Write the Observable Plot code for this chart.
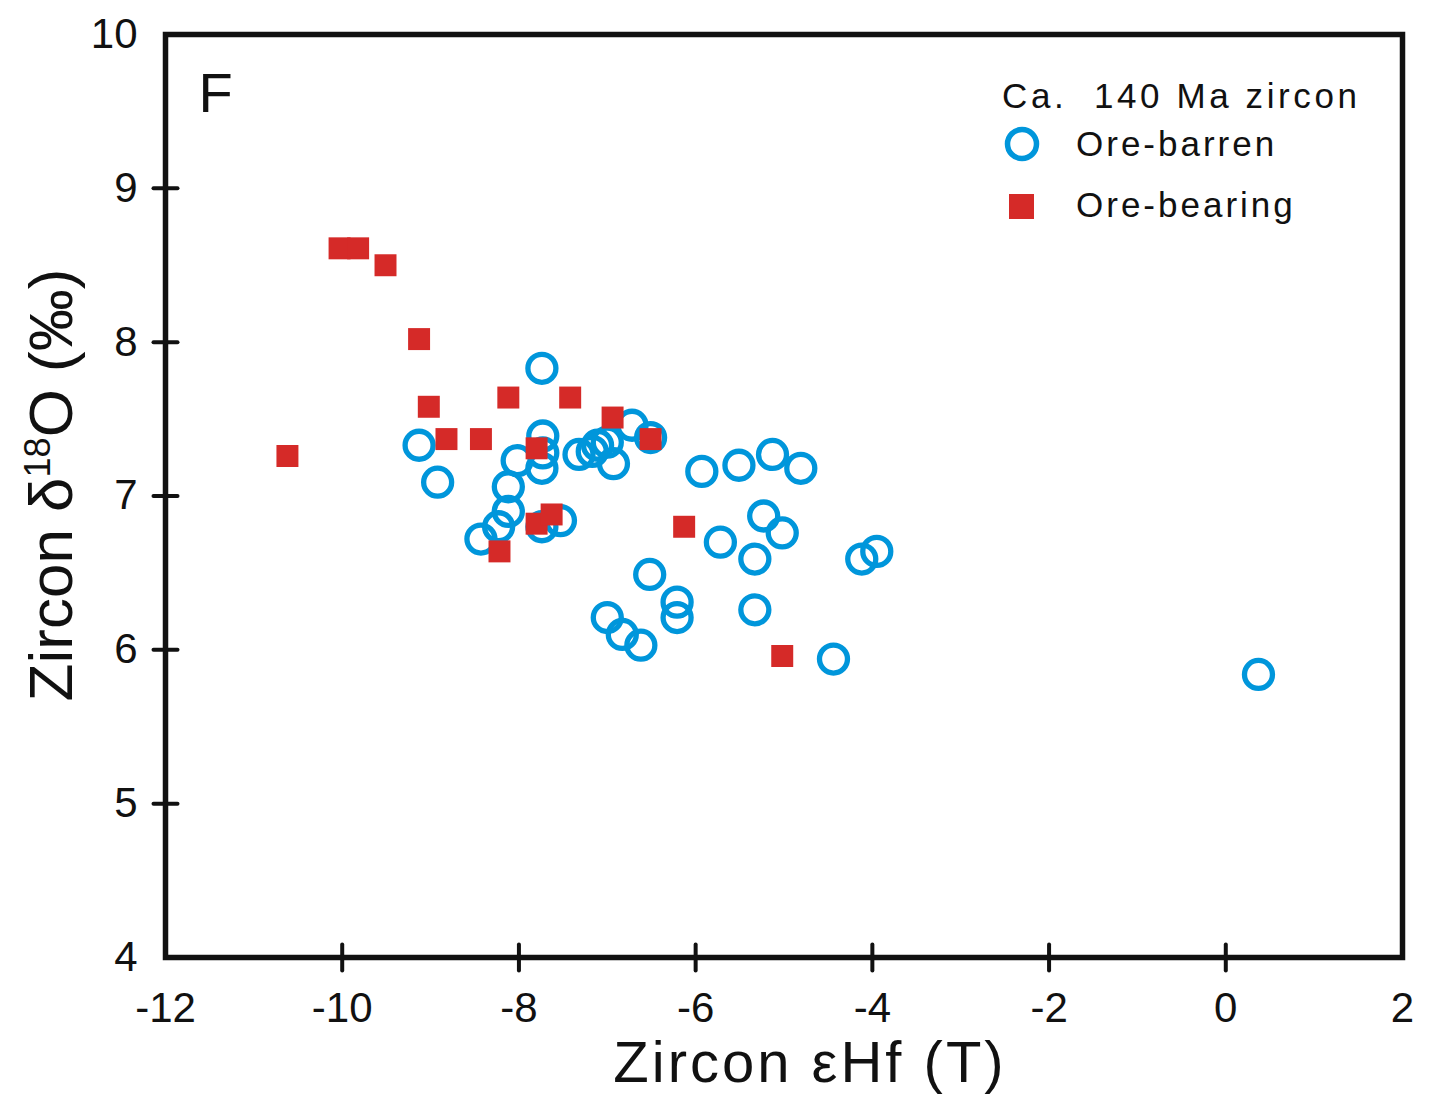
<!DOCTYPE html>
<html>
<head>
<meta charset="utf-8">
<script src="https://cdn.jsdelivr.net/npm/d3@7"></script>
<script src="https://cdn.jsdelivr.net/npm/@observablehq/plot@0.6"></script>
<style>
  body { margin: 0; background: #fff; }
  #chart { width: 1430px; height: 1094px; }
</style>
</head>
<body>
<div id="chart"></div>
<script>
// ---- Data ----
const barrenHf = [-7.74, -9.13, -8.92, -7.73, -7.73, -7.74, -8.02, -8.12, -8.12, -8.23,
                  -8.43, -7.74, -7.53, -7.32, -7.17, -7.11, -7.00, -6.93, -6.72, -6.51,
                  -5.93, -5.51, -5.13, -4.81, -5.23, -5.02, -5.72, -5.33, -6.52, -6.21,
                  -6.21, -7.00, -6.83, -6.62, -5.33, -4.44, -4.12, -3.95, 0.37];
const barrenO  = [7.83, 7.33, 7.09, 7.39, 7.28, 7.18, 7.23, 7.06, 6.90, 6.80,
                  6.72, 6.80, 6.84, 7.27, 7.29, 7.33, 7.35, 7.21, 7.46, 7.38,
                  7.16, 7.20, 7.27, 7.18, 6.87, 6.76, 6.70, 6.59, 6.49, 6.31,
                  6.21, 6.21, 6.10, 6.03, 6.26, 5.94, 6.59, 6.64, 5.84];
const bearingHf = [-10.62, -10.03, -9.82, -9.51, -9.13, -9.02, -8.82, -8.43, -8.12, -7.42,
                   -7.80, -6.94, -6.51, -7.80, -7.63, -8.22, -6.13, -5.02];
const bearingO  = [7.26, 8.61, 8.61, 8.50, 8.02, 7.58, 7.37, 7.37, 7.64, 7.64,
                   7.31, 7.51, 7.37, 6.82, 6.88, 6.64, 6.80, 5.96];
const xTicks = [-12, -10, -8, -6, -4, -2, 0, 2];
const yTicks = [4, 5, 6, 7, 8, 9, 10];
const seriesNames = ["Ore-barren", "Ore-bearing"];
const legendTitle = "Ca.  140 Ma zircon";
const panelLabel = "F";

const barren = barrenHf.map((x, i) => ({x, y: barrenO[i]}));
const bearing = bearingHf.map((x, i) => ({x, y: bearingO[i]}));

const BLUE = "#0096db";
const RED = "#d52a28";
const INK = "#111";
const FONT = "Arial, 'Liberation Sans', sans-serif";

const xDomain = [xTicks[0], xTicks[xTicks.length - 1]];
const yDomain = [yTicks[0], yTicks[yTicks.length - 1]];
const xInner = xTicks.slice(1, -1);
const yInner = yTicks.slice(1, -1);

const tickShape = { draw(ctx, l) { ctx.moveTo(0, 0); ctx.lineTo(0, -l); } };

const plot = Plot.plot({
  width: 1430,
  height: 1094,
  marginLeft: 165,
  marginRight: 28,
  marginTop: 34,
  marginBottom: 137,
  style: { fontFamily: FONT, background: "#fff", color: INK },
  x: { domain: xDomain },
  y: { domain: yDomain },
  marks: [
    Plot.axisX({ ticks: xTicks, tickSize: 0, tickPadding: 35, fontSize: 42, label: null,
                 tickFormat: d => String(d), fill: INK }),
    Plot.axisY({ ticks: yTicks, tickSize: 0, tickPadding: 28, fontSize: 42, label: null,
                 tickFormat: d => String(d), fill: INK }),
    Plot.vector(xInner, { x: d => d, frameAnchor: "bottom", length: 26, rotate: 0, anchor: "middle",
                          shape: tickShape, stroke: INK, strokeWidth: 4, strokeLinecap: "round" }),
    Plot.vector(yInner, { y: d => d, frameAnchor: "left", length: 24, rotate: 90, anchor: "middle",
                          shape: tickShape, stroke: INK, strokeWidth: 4, strokeLinecap: "round" }),
    Plot.dot(barren, { x: "x", y: "y", r: 14, stroke: BLUE, strokeWidth: 5.3, fill: "none" }),
    Plot.dot(bearing, { x: "x", y: "y", symbol: "square", r: 12.4, fill: RED, stroke: "none" }),
    Plot.frame({ stroke: INK, strokeWidth: 5.5 }),
    Plot.text([panelLabel], { frameAnchor: "top-left", dx: 33, dy: 38, fontSize: 56, fill: INK,
                              textAnchor: "start", lineAnchor: "top" })
  ]
});

document.getElementById("chart").appendChild(plot);

const svg = d3.select(plot);

// Y axis title
const yt = svg.append("text")
  .attr("transform", "translate(72,485) rotate(-90)")
  .attr("text-anchor", "middle")
  .attr("fill", INK)
  .style("font-family", FONT)
  .style("font-size", "62px");
yt.append("tspan").text("Zircon δ");
yt.append("tspan").attr("font-size", "36px").attr("dy", "-22").text("18");
yt.append("tspan").attr("dy", "22").text("O (‰)");

// X axis title
svg.append("text")
  .attr("x", 810).attr("y", 1082)
  .attr("text-anchor", "middle")
  .attr("fill", INK)
  .style("font-family", FONT)
  .style("font-size", "58px")
  .style("letter-spacing", "3px")
  .text("Zircon εHf (T)");

// Legend
const lg = svg.append("g").style("font-family", FONT).style("font-size", "35px")
  .attr("fill", INK).attr("text-anchor", "start");
lg.append("text").attr("x", 1002).attr("y", 108).attr("text-anchor", "start")
  .style("letter-spacing", "3.6px").text(legendTitle);
lg.append("circle").attr("cx", 1022).attr("cy", 144).attr("r", 14.5)
  .attr("fill", "none").attr("stroke", BLUE).attr("stroke-width", 5.5);
lg.append("text").attr("x", 1076).attr("y", 156).attr("text-anchor", "start")
  .style("letter-spacing", "3px").text(seriesNames[0]);
lg.append("rect").attr("x", 1009).attr("y", 194).attr("width", 25).attr("height", 25).attr("fill", RED);
lg.append("text").attr("x", 1076).attr("y", 217).attr("text-anchor", "start")
  .style("letter-spacing", "3px").text(seriesNames[1]);
</script>
</body>
</html>
